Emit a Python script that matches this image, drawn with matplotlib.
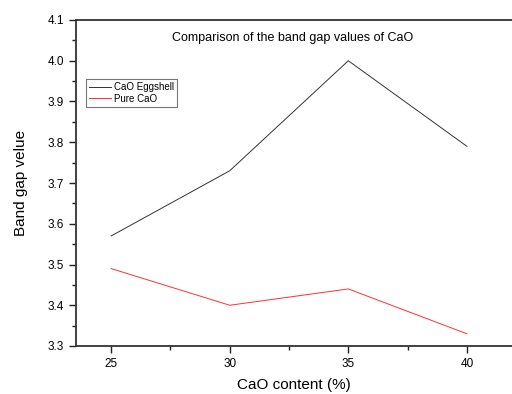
import matplotlib
matplotlib.use("Agg")
import matplotlib.pyplot as plt
from matplotlib.ticker import MultipleLocator

plt.rcParams['font.family'] = ['Liberation Sans', 'DejaVu Sans']

cao_content = [25, 30, 35, 40]
eggshell = [3.57, 3.73, 4.00, 3.79]
pure = [3.49, 3.40, 3.44, 3.33]

fig = plt.figure(figsize=(5.12, 3.94), dpi=100)
ax = fig.add_axes([76/512, 1-346/394, 1-76/512, (346-20)/394])

ax.plot(cao_content, eggshell, color='#333333', lw=0.7, label='CaO Eggshell')
ax.plot(cao_content, pure, color='#ff3030', lw=0.7, label='Pure CaO')

ax.set_xlim(23.52, 41.9)
ax.set_ylim(3.3, 4.1)
ax.xaxis.set_major_locator(MultipleLocator(5))
ax.xaxis.set_minor_locator(MultipleLocator(2.5))
ax.yaxis.set_major_locator(MultipleLocator(0.1))
ax.yaxis.set_minor_locator(MultipleLocator(0.05))
ax.yaxis.set_major_formatter(matplotlib.ticker.FormatStrFormatter('%.1f'))
ax.tick_params(which='major', direction='out', length=5, width=1, labelsize=8.5, color='#222222')
ax.tick_params(which='minor', direction='out', length=3, width=1, color='#222222')
ax.spines['right'].set_visible(False)
for s in ['left', 'bottom', 'top']:
    ax.spines[s].set_linewidth(1.3)
    ax.spines[s].set_color('#333333')

ax.set_xlabel('CaO content (%)', fontsize=11, labelpad=6)
ax.set_ylabel('Band gap velue', fontsize=11, labelpad=14)
ax.text(0.497, 0.945, 'Comparison of the band gap values of CaO', transform=ax.transAxes,
        ha='center', va='center', fontsize=9)

leg = ax.legend(loc='upper left', bbox_to_anchor=(0.022, 0.818), fontsize=7, frameon=True,
                fancybox=False, handlelength=2.3, borderpad=0.3, labelspacing=0.15,
                handletextpad=0.3, borderaxespad=0)
leg.get_frame().set_edgecolor('#555555')
leg.get_frame().set_linewidth(0.8)

fig.savefig('out.png', dpi=100)
